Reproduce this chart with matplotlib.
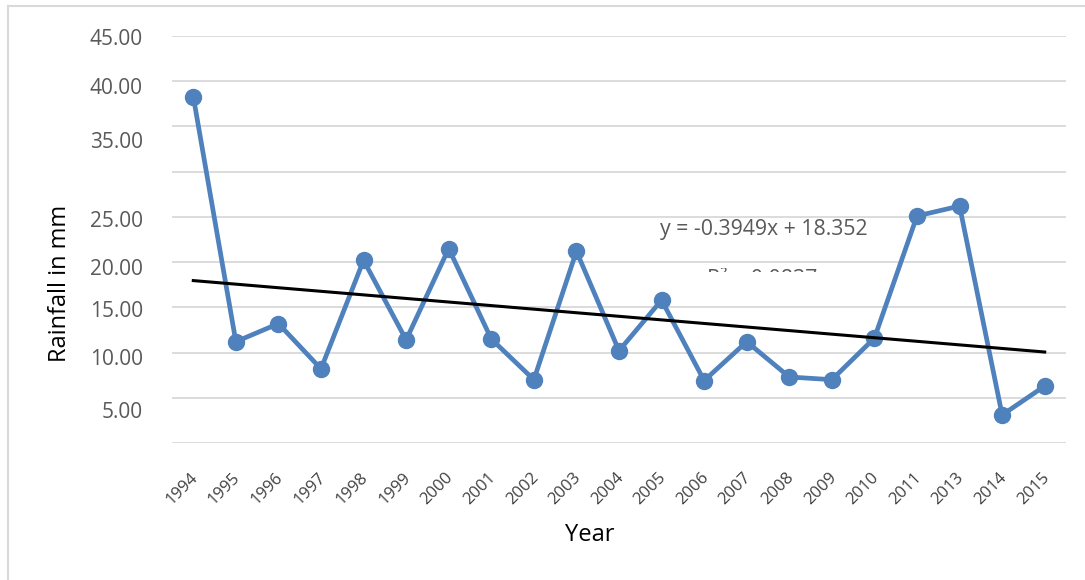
import numpy as np
import matplotlib
matplotlib.use("Agg")
import matplotlib.pyplot as plt
from matplotlib.transforms import Bbox, ScaledTranslation
from matplotlib.lines import Line2D

years = ["1994", "1995", "1996", "1997", "1998", "1999", "2000", "2001", "2002",
         "2003", "2004", "2005", "2006", "2007", "2008", "2009", "2010", "2011",
         "2013", "2014", "2015"]
rainfall = [38.3, 11.2, 13.2, 8.2, 20.2, 11.4, 21.5, 11.5, 7.0, 21.2, 10.2, 15.8,
            6.9, 11.2, 7.3, 7.0, 11.6, 25.1, 26.2, 3.1, 6.3]
trend_slope = -0.3949
trend_intercept = 18.352
grid_values = [0, 5, 10, 15, 20, 25, 30, 35, 40, 45]
y_label_values = [3.65, 9.5, 14.8, 19.5, 24.8, 33.5, 39.5, 44.9]
y_label_texts = ["5.00", "10.00", "15.00", "20.00", "25.00", "35.00", "40.00", "45.00"]

plt.rcParams['font.family'] = ['Open Sans', 'DejaVu Sans']

W, H = 1085, 580
fig = plt.figure(figsize=(W / 100, H / 100), dpi=100)
ax = fig.add_axes([172 / W, (H - 443) / H, (1066 - 172) / W, (443 - 36) / H])

x = np.arange(1, len(years) + 1)
ax.set_xlim(0.5, len(years) + 0.5)
ax.set_ylim(0, 45)

ax.set_yticks(grid_values, minor=True)
ax.set_yticks(y_label_values)
ax.set_yticklabels(y_label_texts)
ax.grid(True, which='minor', axis='y', color='#D9D9D9', linewidth=1.3)
ax.tick_params(axis='y', which='both', length=0, pad=21, labelsize=15,
               labelcolor='#595959')

for s in ax.spines.values():
    s.set_visible(False)

ax.plot(x, rainfall, color='#4F81BD', linewidth=3.4, marker='o', markersize=11.5,
        solid_capstyle='round', zorder=3)
trend = trend_slope * x + trend_intercept
ax.plot(x, trend, color='black', linewidth=2.2, zorder=4)

ax.set_xticks(x)
ax.set_xticklabels(years, rotation=45, ha='right', va='center', rotation_mode='anchor')
ax.tick_params(axis='x', length=0, pad=23, labelsize=12, labelcolor='#404040')
for lbl in ax.get_xticklabels():
    lbl.set_transform(lbl.get_transform() + ScaledTranslation(2 / 100, 0, fig.dpi_scale_trans))

ax.set_ylabel("Rainfall in mm", fontsize=17, color='black')
ax.yaxis.set_label_coords(-112 / 894, (443 - 283) / 407)
ax.yaxis.label.set_va('center')
ax.set_xlabel("Year", fontsize=17, color='black')
ax.xaxis.set_label_coords((590 - 172) / 894, -(535 - 443) / 407)
ax.xaxis.label.set_va('center')

ax.text((660 - 172) / 894, (443 - 229) / 407,
        "y = %.4fx + %.3f" % (trend_slope, trend_intercept),
        transform=ax.transAxes, fontsize=15.3, color='#595959', va='center', ha='left')

r2 = np.corrcoef(x, rainfall)[0, 1] ** 2
t = ax.text((707 - 172) / 894, (443 - 285) / 407, "R² = %.4f" % r2,
            transform=ax.transAxes, fontsize=15.3, color='#595959', va='baseline', ha='left')
t.set_clip_on(True)
t.set_clip_box(Bbox.from_extents(0, H - 271.5, W, H - 267.5))

fig.add_artist(Line2D([8 / W, 8 / W], [0, (H - 6) / H], transform=fig.transFigure,
                      color='#D9D9D9', linewidth=1.5))
fig.add_artist(Line2D([8 / W, 1], [(H - 6) / H, (H - 6) / H], transform=fig.transFigure,
                      color='#D9D9D9', linewidth=1.5))

fig.savefig("out.png", dpi=100)
